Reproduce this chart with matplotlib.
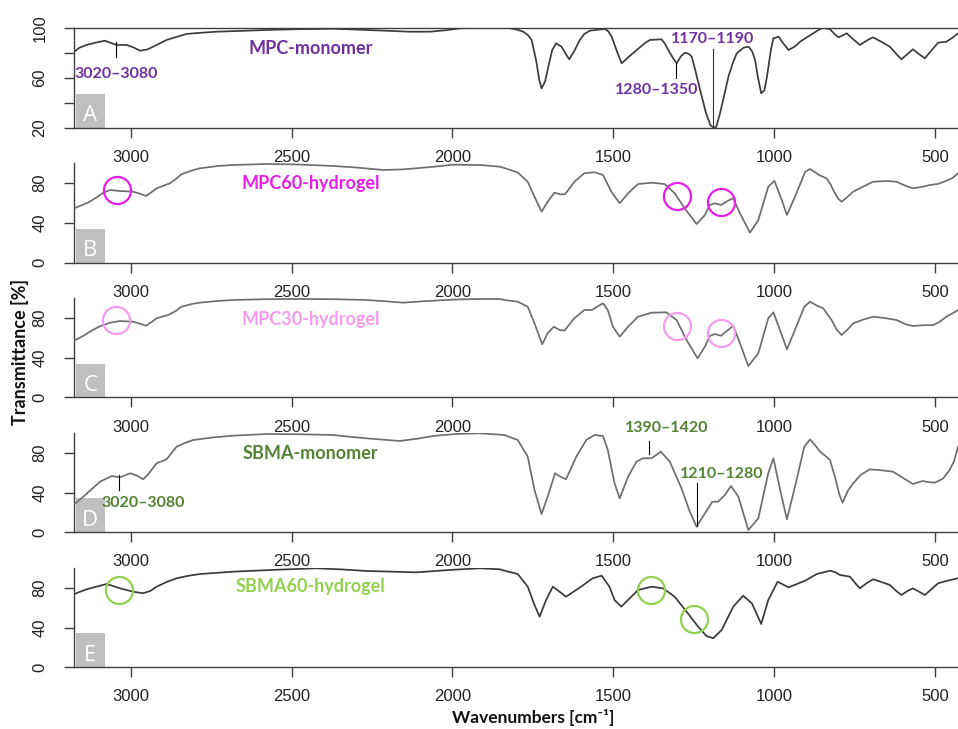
import matplotlib
matplotlib.use("Agg")
import matplotlib.pyplot as plt
from matplotlib.patches import Rectangle

# ---------------- data (wavenumber [cm-1], transmittance [%]) ----------------
wn_A = [3177, 3160, 3138, 3110, 3081, 3065, 3044, 3013, 2990, 2972, 2950, 2931, 2889, 2860, 2827, 2780, 2734,
        2650, 2578, 2480, 2371, 2267, 2200, 2132, 2070, 2020, 1977, 1915, 1830, 1800, 1780, 1765, 1754, 1740,
        1730, 1723, 1712, 1702, 1690, 1678, 1661, 1650, 1637, 1620, 1604, 1590, 1573, 1545, 1526, 1515, 1505,
        1490, 1474, 1455, 1427, 1400, 1386, 1350, 1340, 1329, 1315, 1303, 1290, 1277, 1265, 1256, 1245, 1230,
        1212, 1198, 1189, 1180, 1168, 1155, 1142, 1128, 1116, 1095, 1079, 1068, 1059, 1050, 1040, 1030, 1022,
        1010, 1002, 986, 970, 955, 935, 919, 900, 878, 860, 847, 826, 810, 800, 785, 774, 755, 733, 710, 692,
        665, 640, 620, 604, 585, 568, 550, 531, 510, 490, 464, 445, 428]
tr_A = [80.8, 84.0, 86.2, 88.0, 89.6, 88.0, 86.2, 86.2, 84.0, 81.6, 82.5, 84.8, 90.2, 92.5, 95.0, 96.0, 96.8,
        97.5, 98.2, 98.8, 99.2, 98.2, 97.5, 96.8, 96.8, 98.0, 99.5, 100, 100, 98.5, 96.8, 94.0, 90.2, 74.0,
        58.0, 51.5, 57.0, 68.8, 82.0, 87.5, 84.8, 80.0, 74.7, 82.0, 90.2, 95.0, 97.6, 98.5, 99.0, 97.0, 92.8,
        82.0, 71.5, 76.0, 82.2, 88.0, 90.2, 90.7, 87.5, 82.2, 76.0, 71.5, 77.0, 80.0, 79.0, 76.8, 66.0, 50.2,
        32.0, 22.0, 20.2, 20.5, 31.5, 46.0, 60.8, 72.0, 79.5, 84.0, 84.8, 81.0, 74.2, 60.0, 47.5, 50.0, 60.8,
        82.0, 91.5, 92.8, 87.0, 82.2, 85.0, 88.8, 92.0, 95.5, 98.5, 100, 98.7, 94.5, 92.3, 94.0, 95.5, 91.0,
        86.2, 90.0, 92.3, 88.5, 84.8, 79.0, 74.7, 79.0, 82.7, 79.0, 75.5, 82.0, 88.0, 88.8, 92.0, 95.5]

wn_B = [3177, 3150, 3128, 3100, 3086, 3065, 3034, 2993, 2970, 2953, 2935, 2920, 2900, 2879, 2860, 2843, 2810,
        2785, 2730, 2682, 2578, 2480, 2371, 2300, 2216, 2160, 2112, 2050, 1998, 1915, 1853, 1839, 1797, 1766,
        1745, 1723, 1704, 1683, 1664, 1650, 1621, 1590, 1558, 1532, 1506, 1480, 1454, 1423, 1381, 1340, 1309,
        1278, 1241, 1215, 1200, 1184, 1165, 1143, 1127, 1106, 1075, 1049, 1018, 999, 976, 960, 935, 903, 888,
        860, 837, 825, 816, 800, 790, 775, 754, 725, 692, 650, 619, 590, 568, 540, 516, 490, 464, 445, 428]
tr_B = [54.5, 58.0, 61.2, 67.0, 70.2, 72.9, 71.9, 71.2, 69.0, 66.9, 71.0, 74.6, 77.0, 79.6, 84.0, 88.7, 92.5,
        94.7, 97.0, 98.0, 99.0, 98.5, 97.0, 95.5, 93.0, 93.5, 94.7, 96.5, 98.3, 98.0, 96.3, 95.0, 90.5, 81.2,
        66.2, 51.2, 61.2, 70.2, 68.6, 68.6, 81.2, 89.7, 90.7, 88.0, 71.2, 59.6, 69.6, 78.9, 80.2, 78.9, 69.6,
        54.6, 38.8, 47.8, 57.9, 59.6, 57.9, 62.2, 64.6, 49.5, 30.1, 42.8, 76.2, 82.2, 62.9, 47.8, 66.2, 91.3, 94.0,
        88.0, 84.6, 79.0, 72.9, 64.0, 61.2, 65.0, 71.2, 76.0, 81.2, 82.0, 81.2, 77.0, 74.6, 76.0, 77.9, 79.0,
        82.2, 85.0, 89.7]

wn_C = [3177, 3150, 3128, 3100, 3065, 3034, 2993, 2970, 2953, 2935, 2920, 2884, 2860, 2843, 2810, 2785, 2730,
        2682, 2580, 2474, 2370, 2267, 2200, 2153, 2100, 2060, 1990, 1915, 1853, 1839, 1797, 1766, 1745, 1721,
        1704, 1685, 1667, 1652, 1621, 1590, 1567, 1532, 1517, 1501, 1480, 1454, 1423, 1381, 1335, 1303, 1272,
        1238, 1215, 1200, 1184, 1165, 1143, 1127, 1106, 1080, 1049, 1018, 1002, 978, 960, 935, 906, 888, 865,
        847, 835, 821, 805, 790, 772, 754, 725, 692, 650, 619, 590, 568, 540, 505, 485, 464, 445, 428]
tr_C = [57.0, 61.5, 66.0, 71.0, 75.1, 76.8, 76.1, 74.0, 72.1, 76.0, 79.6, 82.9, 87.0, 91.2, 94.0, 95.3, 97.0,
        98.0, 98.8, 99.0, 98.8, 98.0, 96.5, 95.3, 96.5, 97.3, 98.5, 99.0, 99.0, 98.0, 96.3, 91.2, 74.5, 53.4,
        64.5, 71.1, 67.8, 67.1, 79.6, 87.9, 87.9, 94.7, 87.9, 71.1, 61.0, 71.1, 81.2, 85.2, 85.6, 77.8, 57.7,
        39.3, 51.0, 61.7, 63.7, 62.0, 67.8, 72.1, 54.4, 31.5, 44.3, 79.6, 85.6, 64.5, 48.3, 67.8, 91.2, 96.3, 92.0,
        89.6, 84.0, 77.8, 68.0, 62.7, 68.0, 74.5, 78.0, 81.2, 79.5, 77.8, 73.5, 71.8, 72.5, 72.8, 76.0, 81.2,
        84.5, 87.9]

wn_D = [3177, 3150, 3120, 3096, 3060, 3034, 3003, 2980, 2962, 2945, 2920, 2889, 2858, 2830, 2806, 2740, 2682,
        2578, 2471, 2371, 2320, 2267, 2164, 2110, 2060, 1990, 1915, 1839, 1797, 1766, 1745, 1723, 1704, 1681,
        1664, 1647, 1615, 1584, 1558, 1532, 1517, 1496, 1480, 1454, 1428, 1408, 1381, 1352, 1324, 1288, 1262,
        1241, 1215, 1192, 1174, 1153, 1134, 1111, 1080, 1049, 1018, 1002, 981, 960, 935, 906, 888, 870, 857,
        840, 826, 810, 797, 787, 770, 754, 730, 702, 665, 630, 600, 568, 550, 537, 520, 500, 475, 454, 440, 428]
tr_D = [28.0, 35.2, 44.0, 51.0, 56.7, 55.4, 59.5, 57.0, 53.4, 59.0, 69.6, 73.7, 86.4, 90.5, 93.2, 96.0, 97.6,
        99.3, 99.0, 98.3, 96.5, 94.9, 92.2, 94.5, 97.3, 99.3, 100, 98.3, 93.2, 76.3, 42.6, 18.2, 35.8, 59.5,
        56.0, 53.4, 76.3, 93.2, 98.3, 97.3, 83.1, 49.3, 34.1, 56.0, 71.2, 74.7, 74.7, 81.4, 71.2, 44.3, 20.6,
        5.4, 18.9, 30.7, 30.7, 37.5, 46.6, 35.8, 2.0, 13.9, 59.5, 74.7, 42.6, 12.9, 45.9, 86.4, 93.9, 87.0, 81.4,
        77.0, 72.9, 55.0, 38.0, 29.7, 42.0, 49.3, 58.0, 63.5, 62.5, 61.1, 55.0, 48.6, 50.5, 51.7, 50.5, 50.0,
        54.0, 62.8, 72.0, 86.4]

wn_E = [3177, 3160, 3138, 3100, 3076, 3055, 3034, 2993, 2962, 2940, 2920, 2890, 2858, 2820, 2785, 2682, 2550,
        2423, 2340, 2267, 2112, 2000, 1915, 1853, 1839, 1797, 1766, 1745, 1729, 1709, 1688, 1667, 1647, 1600,
        1564, 1536, 1512, 1496, 1475, 1449, 1423, 1381, 1345, 1309, 1272, 1236, 1210, 1189, 1163, 1127, 1096,
        1069, 1040, 1018, 989, 955, 903, 867, 826, 810, 795, 764, 745, 733, 712, 692, 665, 640, 620, 604, 585,
        568, 550, 531, 510, 490, 460, 428]
tr_E = [73.7, 76.0, 78.7, 82.0, 84.1, 82.0, 79.7, 76.3, 74.7, 77.0, 81.4, 86.0, 89.9, 92.5, 94.2, 96.6, 98.5,
        100, 98.8, 97.3, 95.9, 98.5, 100, 99.0, 97.6, 94.2, 81.4, 62.8, 51.0, 67.9, 81.4, 76.3, 71.2, 81.4,
        89.9, 92.5, 81.4, 67.9, 61.1, 69.6, 78.0, 81.4, 79.7, 71.2, 56.0, 40.8, 31.4, 29.1, 37.5, 61.1, 72.2,
        64.5, 43.6, 67.9, 86.4, 80.7, 87.5, 94.2, 97.6, 96.0, 93.2, 91.5, 84.0, 79.7, 85.0, 88.9, 86.0, 83.1,
        77.0, 72.9, 77.0, 79.7, 76.5, 72.9, 79.0, 84.8, 87.5, 89.9]

x_ticks = [3000, 2500, 2000, 1500, 1000, 500]
panel_letters = ["A", "B", "C", "D", "E"]
panel_names = ["MPC-monomer", "MPC60-hydrogel", "MPC30-hydrogel", "SBMA-monomer", "SBMA60-hydrogel"]
name_colors = ["#7030A0", "#E61EE6", "#F49BEF", "#548235", "#92D050"]
line_colors = ["#3c3c3c", "#6e6e6e", "#6e6e6e", "#6e6e6e", "#3a3a3a"]

# highlighted regions (wavenumber, transmittance) per panel
circles_B = [(3043, 72.9), (1303, 66.9), (1166, 61.2)]
circles_C = [(3047, 77.8), (1303, 71.8), (1166, 64.5)]
circles_E = [(3036, 78.0), (1384, 78.0), (1249, 48.6)]

# ---------------- figure ----------------
W, H = 958, 729
fig = plt.figure(figsize=(W / 100, H / 100), dpi=100)
plt.rcParams['font.family'] = ['Liberation Sans', 'DejaVu Sans']

extents = [(27.7, 127.7), (163.0, 262.7), (298.0, 397.3), (433.3, 532.0), (568.3, 667.0)]
left_px, right_px = 74, 958
xlim = (3177, 428)
data = [(wn_A, tr_A), (wn_B, tr_B), (wn_C, tr_C), (wn_D, tr_D), (wn_E, tr_E)]

axes = []
for i, (top, bot) in enumerate(extents):
    ax = fig.add_axes([left_px / W, 1 - bot / H, (right_px - left_px) / W, (bot - top) / H])
    axes.append(ax)
    wn, tr = data[i]
    ax.plot(wn, tr, color=line_colors[i], lw=1.25, solid_joinstyle="round", zorder=3)
    ax.set_xlim(*xlim)
    if i == 0:
        ax.set_ylim(20, 100)
        ax.set_yticks([20, 40, 60, 80, 100])
        ax.set_yticklabels(["20", "", "60", "", "100"])
    else:
        ax.set_ylim(0, 100)
        ax.set_yticks([0, 40, 80])
        ax.set_yticklabels(["0", "40", "80"])
    ax.set_xticks(x_ticks)
    labels = [str(t) for t in x_ticks]
    if i == 2:
        labels[3] = ""  # covered by the 1390–1420 annotation in the reference
    ax.set_xticklabels(labels)
    ax.spines["right"].set_visible(False)
    if i != 0:
        ax.spines["top"].set_visible(False)
    for s in ax.spines.values():
        s.set_color("#404040")
        s.set_linewidth(1.0)
    ax.tick_params(axis="both", direction="out", length=7, width=1.0, color="#404040",
                   labelsize=12, labelcolor="#222222")
    ax.tick_params(axis="x", pad=9)
    ax.tick_params(axis="y", pad=12, labelrotation=90)
    for lab in ax.get_yticklabels():
        lab.set_va("center")
    ax.patch.set_alpha(0)

    ax.add_patch(Rectangle((0.002, 0.0), 0.033, 0.34, transform=ax.transAxes,
                           facecolor="#BFBFBF", edgecolor="none", zorder=2, clip_on=False))
    ax.text(0.0185, 0.12, panel_letters[i], transform=ax.transAxes, ha="center", va="center",
            color="white", fontsize=16, family=["Open Sans", "DejaVu Sans"], zorder=4)

name_pos = [(2441, 83.5), (2440, 79.6), (2440, 78.5), (2441, 79.7), (2441, 81.4)]
bold_font = ["Lato", "DejaVu Sans"]
for i, ax in enumerate(axes):
    ax.text(name_pos[i][0], name_pos[i][1], panel_names[i], color=name_colors[i], fontsize=13,
            fontweight="bold", family=bold_font, ha="center", va="center", zorder=5)

# annotations panel A
axA = axes[0]
c = name_colors[0]
axA.plot([3047, 3047], [88.8, 76.8], color="black", lw=0.8, zorder=4)
axA.text(3047, 63, "3020–3080", color=c, fontsize=11.5, fontweight="bold", family=bold_font,
         ha="center", va="center")
axA.plot([1190, 1190], [82.7, 20], color="#333333", lw=0.8, zorder=4)
axA.text(1192, 90.7, "1170–1190", color=c, fontsize=11.5, fontweight="bold", family=bold_font,
         ha="center", va="center")
axA.plot([1306, 1306], [71.5, 59.5], color="black", lw=0.8, zorder=4)
axA.text(1365, 50.2, "1280–1350", color=c, fontsize=11.5, fontweight="bold", family=bold_font,
         ha="center", va="center")

# annotations panel D
axD = axes[3]
c = name_colors[3]
axD.plot([3036, 3036], [57.8, 42.6], color="black", lw=0.8, zorder=4)
axD.text(2961, 29.7, "3020–3080", color=c, fontsize=11.5, fontweight="bold", family=bold_font,
         ha="center", va="center")
axD.plot([1388, 1388], [92.5, 78.7], color="black", lw=0.8, zorder=4, clip_on=False)
axD.text(1333, 105.7, "1390–1420", color=c, fontsize=11.5, fontweight="bold", family=bold_font,
         ha="center", va="center", clip_on=False)
axD.plot([1239, 1239], [49.3, 6.1], color="black", lw=0.8, zorder=4)
axD.text(1163, 58.8, "1210–1280", color=c, fontsize=11.5, fontweight="bold", family=bold_font,
         ha="center", va="center")

# circles
for ax, circ, col in [(axes[1], circles_B, name_colors[1]), (axes[2], circles_C, name_colors[2]),
                      (axes[4], circles_E, name_colors[4])]:
    xs = [p[0] for p in circ]
    ys = [p[1] for p in circ]
    ax.plot(xs, ys, linestyle="none", marker="o", markersize=19.5, markerfacecolor="none",
            markeredgecolor=col, markeredgewidth=1.6, zorder=6)

fig.text(20 / W, 1 - 352 / H, "Transmittance [%]", rotation=90, ha="center", va="center",
         fontsize=13, fontweight="bold", family=bold_font, color="#111111")
fig.text(533 / W, 1 - 718 / H, "Wavenumbers [cm⁻¹]", ha="center", va="center",
         fontsize=12.5, fontweight="bold", family=bold_font, color="#111111")

fig.savefig("out.png", dpi=100)
